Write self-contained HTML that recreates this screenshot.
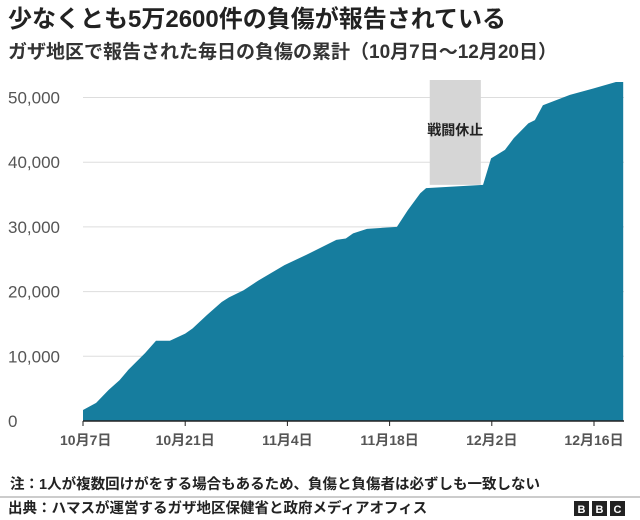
<!DOCTYPE html>
<html><head><meta charset="utf-8">
<style>
body{margin:0;width:640px;height:520px;background:#fff;overflow:hidden;font-family:"Liberation Sans","Noto Sans CJK JP",sans-serif;}
svg{position:absolute;left:0;top:0}
</style></head>
<body>
<svg width="640" height="520" id="chart">
<text x="8" y="27" font-size="24" font-weight="bold" fill="#222">少なくとも5万2600件の負傷が報告されている</text>
<text x="8" y="58" font-size="19" font-weight="bold" fill="#333">ガザ地区で報告された毎日の負傷の累計（10月7日～12月20日）</text>
<g id="grid"></g>
<g id="truce"></g>
<g id="area"></g>
<g id="axes"></g>
<text x="10" y="489" font-size="14.5" font-weight="bold" fill="#222">注：1人が複数回けがをする場合もあるため、負傷と負傷者は必ずしも一致しない</text>
<line x1="0" y1="497" x2="640" y2="497" stroke="#999" stroke-width="1"/>
<text x="8" y="513" font-size="14.5" font-weight="bold" fill="#222">出典：ハマスが運営するガザ地区保健省と政府メディアオフィス</text>
<g>
<rect x="574" y="501" width="15" height="15" fill="#222"/><text x="581.5" y="513" font-size="11" font-weight="bold" fill="#fff" text-anchor="middle">B</text>
<rect x="592" y="501" width="15" height="15" fill="#222"/><text x="599.5" y="513" font-size="11" font-weight="bold" fill="#fff" text-anchor="middle">B</text>
<rect x="610" y="501" width="15" height="15" fill="#222"/><text x="617.5" y="513" font-size="11" font-weight="bold" fill="#fff" text-anchor="middle">C</text>
</g>
</svg>
<script>
const days = [0,1.8,3.5,5,6.2,8.5,10,11.9,14,15,17,19,20,22,24,27.6,31,34.7,36,37,38.9,43,44.5,46.2,47,54.8,55.9,57.8,59,61,61.9,63,66.7,69.9,73,74];
const injuries = [1700,2800,4800,6300,7900,10500,12400,12400,13500,14300,16400,18400,19100,20200,21700,24100,25900,28000,28200,29000,29700,30000,32600,35200,36000,36500,40600,41900,43700,46000,46500,48800,50400,51400,52400,52400];
const yTicks = [0,10000,20000,30000,40000,50000];
const yTickLabels = ["0","10,000","20,000","30,000","40,000","50,000"];
const xTickDays = [0,14,28,42,56,70];
const xTickLabels = ["10月7日","10月21日","11月4日","11月18日","12月2日","12月16日"];
const truceStart = 47.5, truceEnd = 54.5;
const truceLabel = "戦闘休止";

const NS="http://www.w3.org/2000/svg";
const x0=83, pxDay=7.3, yBase=421, pxUnit=64.7/10000;
const X=d=>x0+d*pxDay, Y=v=>yBase-v*pxUnit;
function mk(tag,attrs,parent,txt){const e=document.createElementNS(NS,tag);for(const k in attrs)e.setAttribute(k,attrs[k]);if(txt!==undefined)e.textContent=txt;document.getElementById(parent).appendChild(e);return e;}

yTicks.forEach((t,i)=>{
  if(t>0){const l=mk('line',{x1:83,x2:624,y1:Y(t),y2:Y(t),stroke:'#ddd','stroke-width':1},'grid');
  
  }
  const tx=mk('text',{x:8,y:Y(t)+6,'font-size':17,fill:'#555'},'grid',yTickLabels[i]);
  
  
});
const tr=mk('rect',{x:X(truceStart),y:80,width:X(truceEnd)-X(truceStart),height:Y(36500)-80,fill:'#d6d6d6'},'truce');


const tl=mk('text',{x:(X(truceStart)+X(truceEnd))/2,y:135,'font-size':14,'font-weight':'bold',fill:'#222','text-anchor':'middle'},'truce',truceLabel);



let d='M'+X(days[0])+','+yBase;
days.forEach((dd,i)=>{d+=' L'+X(dd)+','+Y(injuries[i]);});
d+=' L'+X(days[days.length-1])+','+yBase+' Z';
const ar=mk('path',{d:d,fill:'#167d9e'},'area');



const ax=mk('line',{x1:83,x2:624,y1:yBase,y2:yBase,stroke:'#222','stroke-width':1.5},'axes');


xTickDays.forEach((t,i)=>{
  const tk=mk('line',{x1:X(t),x2:X(t),y1:yBase,y2:yBase+5,stroke:'#222'},'axes');
  
  
  const lb=mk('text',{x:i==0?X(t)-23:X(t),y:445,'font-size':14,'font-weight':'bold',fill:'#555','text-anchor':i==0?'start':'middle'},'axes',xTickLabels[i]);
  
  
});
</script>
</body></html>
